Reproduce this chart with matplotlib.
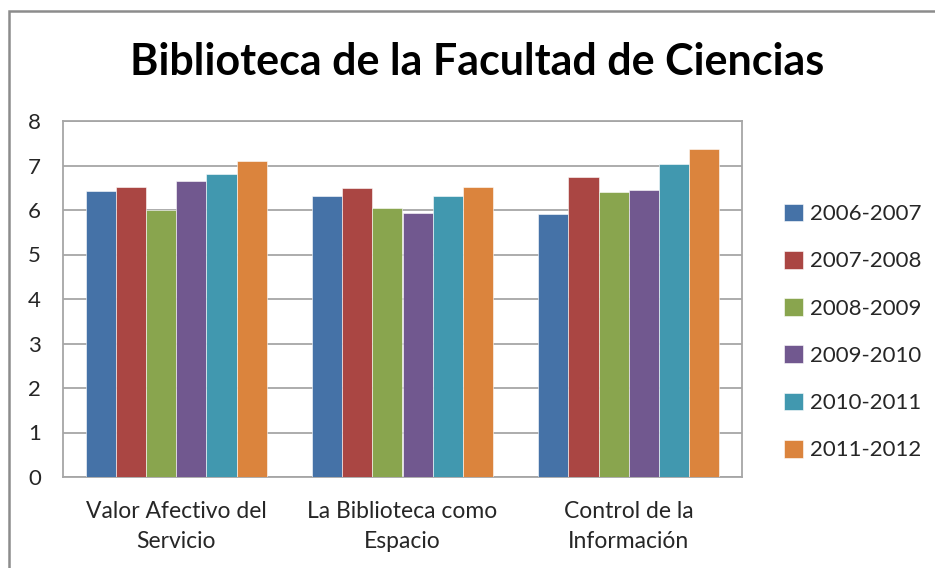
import matplotlib
matplotlib.use("Agg")
import matplotlib.pyplot as plt
from matplotlib.patches import Rectangle
import numpy as np

categories = ["Valor Afectivo del\nServicio", "La Biblioteca como\nEspacio", "Control de la\nInformación"]
years = ["2006-2007", "2007-2008", "2008-2009", "2009-2010", "2010-2011", "2011-2012"]
v_2006 = [6.43, 6.31, 5.90]
v_2007 = [6.51, 6.49, 6.74]
v_2008 = [6.00, 6.05, 6.40]
v_2009 = [6.66, 5.93, 6.46]
v_2010 = [6.82, 6.31, 7.03]
v_2011 = [7.09, 6.51, 7.38]
series = [v_2006, v_2007, v_2008, v_2009, v_2010, v_2011]
colors = ["#4572A7", "#AA4643", "#89A54E", "#71588F", "#4198AF", "#DB843D"]

plt.rcParams["font.family"] = ["Lato", "DejaVu Sans"]

W, H = 935, 568
fig = plt.figure(figsize=(W / 100, H / 100), dpi=100)
ax = fig.add_axes([63 / W, 1 - 477 / H, (742 - 63) / W, (477 - 121) / H])

# outer chart frame (cut off on right and bottom)
fig.add_artist(Rectangle((9 / W, -0.1), 1.2, 1 - 11 / H + 0.1, transform=fig.transFigure,
                         fill=False, edgecolor="#8c8c8c", linewidth=1.8))

x = np.arange(len(categories))
n = len(series)
width = 0.8 / n
for i, (vals, c, lab) in enumerate(zip(series, colors, years)):
    ax.bar(x - 0.4 + width * (i + 0.5), vals, width, color=c, label=lab,
           edgecolor="white", linewidth=0.4, zorder=3)

ax.set_xlim(-0.5, 2.5)
ax.set_ylim(0, 8)
ax.set_yticks(range(0, 9))
ax.yaxis.grid(True, color="#a6a6a6", linewidth=1.3, zorder=0)
for s in ax.spines.values():
    s.set_color("#a6a6a6")
    s.set_linewidth(1.3)
ax.set_xticks(x)
ax.set_xticklabels(categories, fontsize=16.5, color="#262626", linespacing=1.55)
ax.tick_params(axis="x", length=0, pad=17)
ax.tick_params(axis="y", length=0, pad=16, labelsize=16, labelcolor="#262626")

fig.text(0.51, 1 - 62 / H, "Biblioteca de la Facultad de Ciencias", ha="center", va="center",
         fontsize=31, fontweight="bold", color="black")

fig.legend(loc="center left", bbox_to_anchor=(764 / W, 1 - 332 / H), frameon=False,
           fontsize=16, handlelength=0.85, handleheight=0.85, handletextpad=0.3,
           labelspacing=1.2, labelcolor="#262626")

fig.savefig("out.png", dpi=100)
